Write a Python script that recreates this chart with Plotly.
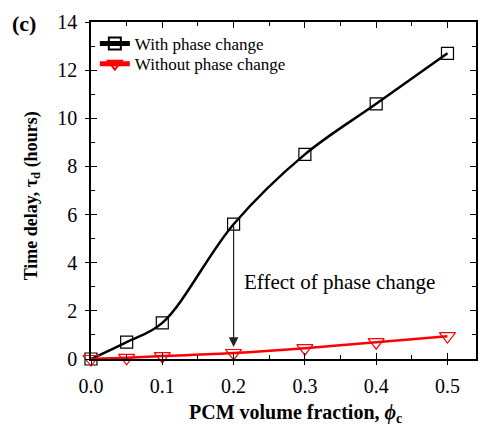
import plotly.graph_objects as go

x_vals = [0.0, 0.05, 0.1, 0.2, 0.3, 0.4, 0.5]
with_pc = [0.0, 0.7, 1.5, 5.6, 8.5, 10.6, 12.7]
without_pc = [0.0, 0.05, 0.12, 0.25, 0.45, 0.7, 0.95]
x_ticks = [0.0, 0.1, 0.2, 0.3, 0.4, 0.5]
y_ticks = [0, 2, 4, 6, 8, 10, 12, 14]

FONT = "Liberation Serif"

fig = go.Figure()
fig.add_trace(go.Scatter(
    x=x_vals, y=with_pc, name="With phase change", mode="lines+markers",
    line=dict(color="black", width=2.5, shape="spline", smoothing=1.0),
    marker=dict(symbol="square-open", size=12, color="black", line=dict(width=1.2)),
    cliponaxis=False, legend="legend",
))
fig.add_trace(go.Scatter(
    x=x_vals, y=without_pc, name="Without phase change", mode="lines+markers",
    line=dict(color="red", width=2.5, shape="spline"),
    marker=dict(symbol="triangle-down-open", size=14, color="red", line=dict(width=1.2)),
    cliponaxis=False, legend="legend2",
))

# arrow annotation
fig.add_annotation(x=0.2, y=without_pc[3] + 0.25, ax=0.2, ay=with_pc[3], xref="x", yref="y",
                   axref="x", ayref="y", showarrow=True, arrowhead=2, arrowsize=1.6,
                   arrowwidth=1.2, arrowcolor="#222", text="")
fig.add_annotation(x=0.212, y=3.2, xref="x", yref="y", text="Effect of phase change",
                   showarrow=False, xanchor="left", yanchor="middle",
                   font=dict(family=FONT, size=21, color="black"))
fig.add_annotation(x=-0.173, y=0.997, xref="paper", yref="paper", text="<b>(c)</b>", showarrow=False,
                   xanchor="center", yanchor="middle", font=dict(family=FONT, size=22, color="black"))
# axis titles
fig.add_annotation(x=0.53, y=-0.163, xref="paper", yref="paper",
                   text="<b>PCM volume fraction, <i>ϕ</i><sub>c</sub></b>", showarrow=False,
                   xanchor="center", yanchor="middle", font=dict(family=FONT, size=20, color="black"))
fig.add_annotation(x=-0.152, y=0.484, xref="paper", yref="paper", textangle=-90,
                   text="<b>Time delay, τ<sub>d</sub> (hours)</b>", showarrow=False,
                   xanchor="center", yanchor="middle", font=dict(family=FONT, size=18, color="black"))

axis_common = dict(showgrid=False, zeroline=False, showline=True, linecolor="black", linewidth=1.5,
                   mirror="allticks", ticks="inside", ticklen=6, tickwidth=1.2, tickcolor="black",
                   tickfont=dict(family=FONT, size=20, color="black"))

legend_common = dict(xanchor="left", yanchor="middle", bgcolor="rgba(0,0,0,0)",
                     font=dict(family=FONT, size=17, color="black"), itemsizing="constant")

fig.update_layout(
    width=480, height=431, margin=dict(l=91, r=2, t=22, b=72),
    plot_bgcolor="white", paper_bgcolor="white",
    font=dict(family=FONT),
    showlegend=True,
    legend=dict(x=0.01, y=0.935, **legend_common),
    legend2=dict(x=0.01, y=0.875, **legend_common),
    xaxis=dict(range=[0, 0.54], tickvals=x_ticks, ticktext=[f"{v:.1f}" for v in x_ticks],
               minor=dict(tickvals=[0.05, 0.15, 0.25, 0.35, 0.45], ticks="inside", ticklen=4,
                          tickcolor="black", tickwidth=1.2),
               ticklabelstandoff=8,
               **axis_common),
    yaxis=dict(range=[0, 14], tickvals=y_ticks,
               minor=dict(tickvals=[1, 3, 5, 7, 9, 11, 13], ticks="inside", ticklen=4,
                          tickcolor="black", tickwidth=1.2),
               ticklabelstandoff=8,
               **axis_common),
    xaxis2=dict(range=[0, 0.54], overlaying="x", tickvals=x_ticks, showticklabels=False,
                ticks="outside", ticklen=5, tickwidth=1.2, tickcolor="black", showgrid=False,
                zeroline=False, showline=False),
    yaxis2=dict(range=[0, 14], overlaying="y", tickvals=y_ticks, showticklabels=False,
                ticks="outside", ticklen=5, tickwidth=1.2, tickcolor="black", showgrid=False,
                zeroline=False, showline=False),
)
# invisible trace to activate overlay axes
fig.add_trace(go.Scatter(x=[None], y=[None], xaxis="x2", yaxis="y2", showlegend=False,
                         hoverinfo="skip"))

fig.write_html("out.html")
